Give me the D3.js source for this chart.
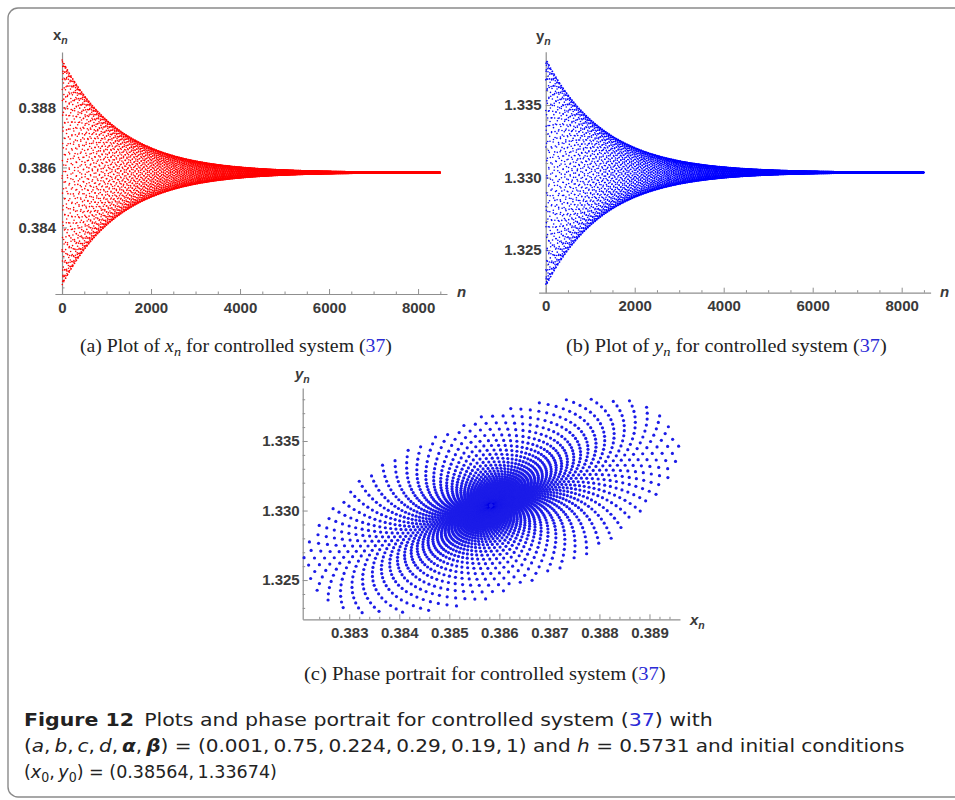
<!DOCTYPE html>
<html>
<head>
<meta charset="utf-8">
<script src="https://cdn.jsdelivr.net/npm/d3@7"></script>
<style>
  body { margin: 0; background: #fff; }
  svg { display: block; }
</style>
</head>
<body>
<svg id="fig" width="955" height="800"></svg>
<script>
// ---- controlled system (37): fixed point and linearised oscillation ----
const equilibrium   = [0.38583, 1.33035];   // (x*, y*)
const initialState  = [0.38564, 1.33674];   // (x0, y0)
const amplitude     = [0.00362, 0.00755];   // half-width of the first turn in x and y
const phaseLagDeg   = 57.5;                 // y_n trails x_n by this angle
const returnSteps   = 78;                   // iterations before an orbit point comes back near the same angle
const turnsPerReturn = 29;                  // whole turns made during those iterations
const armTwist      = 0.037;                // extra angle (rad) gained on each return
const decayPerStep  = 0.00076;              // log-contraction per iteration
const iterations    = 8500;

// ---- tick values ----
const nTicks        = [0, 2000, 4000, 6000, 8000];
const nMinorTicks   = [500, 1000, 1500, 2500, 3000, 3500, 4500, 5000, 5500, 6500, 7000, 7500, 8500];
const xnTicks       = [0.384, 0.386, 0.388];
const xnMinorTicks  = [0.382, 0.383, 0.385, 0.387, 0.389];
const ynTicks       = [1.325, 1.330, 1.335];
const ynMinorTicks  = [1.323, 1.324, 1.326, 1.327, 1.328, 1.329, 1.331, 1.332, 1.333, 1.334, 1.336, 1.337, 1.338];
const phXTicks      = [0.383, 0.384, 0.385, 0.386, 0.387, 0.388, 0.389];
const phXMinorTicks = [0.3824, 0.3826, 0.3828, 0.3832, 0.3834, 0.3836, 0.3838, 0.3842, 0.3844, 0.3846, 0.3848,
                       0.3852, 0.3854, 0.3856, 0.3858, 0.3862, 0.3864, 0.3866, 0.3868, 0.3872, 0.3874, 0.3876, 0.3878,
                       0.3882, 0.3884, 0.3886, 0.3888, 0.3892, 0.3894];
const phYTicks      = [1.325, 1.330, 1.335];
const phYMinorTicks = [1.323, 1.324, 1.326, 1.327, 1.328, 1.329, 1.331, 1.332, 1.333, 1.334, 1.336, 1.337, 1.338];

// ---- iterate the linearised map from the initial conditions ----
const lag = -phaseLagDeg * Math.PI / 180;
const theta = (2 * Math.PI * turnsPerReturn + armTwist) / returnSteps;
const rho = Math.exp(-decayPerStep);
const [A, B] = amplitude;
const P = [[A, 0], [B * Math.cos(lag), -B * Math.sin(lag)]];
const detP = P[0][0] * P[1][1] - P[0][1] * P[1][0];
const Pinv = [[P[1][1] / detP, -P[0][1] / detP], [-P[1][0] / detP, P[0][0] / detP]];
const Rm = [[rho * Math.cos(theta), -rho * Math.sin(theta)], [rho * Math.sin(theta), rho * Math.cos(theta)]];
const mul = (M, N) => [[M[0][0]*N[0][0] + M[0][1]*N[1][0], M[0][0]*N[0][1] + M[0][1]*N[1][1]],
                       [M[1][0]*N[0][0] + M[1][1]*N[1][0], M[1][0]*N[0][1] + M[1][1]*N[1][1]]];
const J = mul(mul(P, Rm), Pinv);

const orbit = [];
let ex = initialState[0] - equilibrium[0], ey = initialState[1] - equilibrium[1];
for (let n = 0; n < iterations; n++) {
  orbit.push({ n, x: equilibrium[0] + ex, y: equilibrium[1] + ey });
  const nx = J[0][0] * ex + J[0][1] * ey;
  const ny = J[1][0] * ex + J[1][1] * ey;
  ex = nx; ey = ny;
}

// ---- drawing ----
const svg = d3.select("#fig");
const axisColor = "#8f8f8f";
const labelColor = "#3a3a3a";
const sans = "'Liberation Sans', Arial, sans-serif";
const serif = "'Liberation Serif', 'Times New Roman', serif";
const captionFont = "'DejaVu Sans Condensed', 'Open Sans', sans-serif";
const linkBlue = "#2b2bd6";

// outer frame
svg.append("rect")
  .attr("x", 8).attr("y", 8).attr("width", 980).attr("height", 789)
  .attr("rx", 10).attr("fill", "none")
  .attr("stroke", "#8a8a8a").attr("stroke-width", 1.4);

function styleAxis(g, fontSize) {
  g.select(".domain").attr("stroke", axisColor).attr("stroke-width", 1.2);
  g.selectAll(".tick line").attr("stroke", axisColor).attr("stroke-width", 1);
  g.selectAll(".tick text")
    .attr("fill", labelColor).attr("font-family", sans)
    .attr("font-weight", "bold").attr("font-size", fontSize);
}

function drawAxes(xs, ys, opt) {
  const y0 = ys.range()[0];
  const x0 = xs(opt.xOrigin);
  // minor ticks
  svg.append("g").attr("transform", `translate(0,${y0})`)
    .call(d3.axisBottom(xs).tickValues(opt.xMinor).tickSize(-2.5).tickSizeOuter(0).tickFormat(""))
    .call(g => { g.select(".domain").remove(); g.selectAll("line").attr("stroke", axisColor); });
  svg.append("g").attr("transform", `translate(${x0},0)`)
    .call(d3.axisLeft(ys).tickValues(opt.yMinor).tickSize(-2.5).tickSizeOuter(0).tickFormat(""))
    .call(g => { g.select(".domain").remove(); g.selectAll("line").attr("stroke", axisColor); });
  // major ticks with labels
  const gx = svg.append("g").attr("transform", `translate(0,${y0})`)
    .call(d3.axisBottom(xs).tickValues(opt.xTicks).tickSize(-5).tickSizeOuter(0)
      .tickPadding(opt.xPad).tickFormat(opt.xFmt));
  styleAxis(gx, opt.fontSize);
  const gy = svg.append("g").attr("transform", `translate(${x0},0)`)
    .call(d3.axisLeft(ys).tickValues(opt.yTicks).tickSize(-5).tickSizeOuter(0)
      .tickPadding(opt.yPad).tickFormat(opt.yFmt));
  styleAxis(gy, opt.fontSize);
}

function axisLabel(x, y, main, sub, mainItalic, subItalic) {
  const t = svg.append("text").attr("x", x).attr("y", y)
    .attr("font-family", sans).attr("font-weight", "bold")
    .attr("font-size", 15).attr("fill", labelColor);
  t.append("tspan").text(main).attr("font-style", mainItalic ? "italic" : "normal");
  if (sub) t.append("tspan").text(sub).attr("font-size", 10.5).attr("dy", 3.5)
    .attr("font-style", subItalic ? "italic" : "normal");
}

// (a) x_n against n
const xA = d3.scaleLinear().domain([-160, 8650]).range([54.9, 447]);
const yA = d3.scaleLinear().domain([0.38178, 0.38985]).range([294, 52]);
drawAxes(xA, yA, {
  xOrigin: 0, xTicks: nTicks, xMinor: nMinorTicks, yTicks: xnTicks, yMinor: xnMinorTicks,
  xFmt: d3.format("d"), yFmt: d3.format(".3f"), xPad: 8, yPad: 6, fontSize: 15
});
svg.append("g").selectAll("circle").data(orbit).join("circle")
  .attr("cx", d => xA(d.n)).attr("cy", d => yA(d.x)).attr("r", 0.8).attr("fill", "#ff0000");
axisLabel(53, 40, "x", "n", false, true);
axisLabel(457, 297, "n", null, true, false);

// (b) y_n against n
const xB = d3.scaleLinear().domain([-160, 8650]).range([538.6, 930.6]);
const yB = d3.scaleLinear().domain([1.32206, 1.33868]).range([292.7, 51.7]);
drawAxes(xB, yB, {
  xOrigin: 0, xTicks: nTicks, xMinor: nMinorTicks, yTicks: ynTicks, yMinor: ynMinorTicks,
  xFmt: d3.format("d"), yFmt: d3.format(".3f"), xPad: 8, yPad: 4, fontSize: 15
});
svg.append("g").selectAll("circle").data(orbit).join("circle")
  .attr("cx", d => xB(d.n)).attr("cy", d => yB(d.y)).attr("r", 0.8).attr("fill", "#0000ff");
axisLabel(536, 41, "y", "n", false, true);
axisLabel(940, 297, "n", null, true, false);

// (c) phase portrait
const xC = d3.scaleLinear().domain([0.38207, 0.38961]).range([302.7, 680]);
const yC = d3.scaleLinear().domain([1.32218, 1.33881]).range([619.3, 388]);
drawAxes(xC, yC, {
  xOrigin: 0.38207, xTicks: phXTicks, xMinor: phXMinorTicks, yTicks: phYTicks, yMinor: phYMinorTicks,
  xFmt: d3.format(".3f"), yFmt: d3.format(".3f"), xPad: 8, yPad: 3, fontSize: 15
});
svg.append("g").selectAll("circle").data(orbit).join("circle")
  .attr("cx", d => xC(d.x)).attr("cy", d => yC(d.y)).attr("r", 1.6).attr("fill", "#1c1ce8");
axisLabel(295, 379, "y", "n", true, true);
axisLabel(690, 625, "x", "n", true, true);

// ---- captions ----
function richText(x, y, parts, opt) {
  const t = svg.append("text").attr("x", x).attr("y", y)
    .attr("font-family", opt.family).attr("font-size", opt.size).attr("fill", "#222");
  let shifted = 0;
  parts.forEach(p => {
    const s = t.append("tspan").text(p.t);
    if (p.i) s.attr("font-style", "italic");
    if (p.b) s.attr("font-weight", "bold");
    if (p.c) s.attr("fill", p.c);
    if (p.sub) { s.attr("font-size", opt.size * 0.72).attr("dy", 4 - shifted); shifted = 4; }
    else if (shifted) { s.attr("dy", -shifted); shifted = 0; }
  });
  if (opt.width) {
    const w = t.node().getComputedTextLength();
    const k = opt.width / w;
    t.attr("transform", `translate(${x},0) scale(${k},1) translate(${-x},0)`);
  }
  return t;
}

const subCaptionA = [{t: "(a) Plot of "}, {t: "x", i: 1}, {t: "n", i: 1, sub: 1}, {t: " for controlled system ("}, {t: "37", c: linkBlue}, {t: ")"}];
const subCaptionB = [{t: "(b) Plot of "}, {t: "y", i: 1}, {t: "n", i: 1, sub: 1}, {t: " for controlled system ("}, {t: "37", c: linkBlue}, {t: ")"}];
const subCaptionC = [{t: "(c) Phase portrait for controlled system ("}, {t: "37", c: linkBlue}, {t: ")"}];
richText(80, 352, subCaptionA, {family: serif, size: 18, width: 312});
richText(566, 352, subCaptionB, {family: serif, size: 18, width: 321});
richText(304, 680, subCaptionC, {family: serif, size: 18, width: 362});

const th = "\u2009";
const captionLine1 = [{t: "Figure 12", b: 1}, {t: "\u2002Plots and phase portrait for controlled system ("}, {t: "37", c: linkBlue}, {t: ") with"}];
const captionLine2 = [{t: "("}, {t: "a", i: 1}, {t: "," + th}, {t: "b", i: 1}, {t: "," + th}, {t: "c", i: 1}, {t: "," + th},
  {t: "d", i: 1}, {t: "," + th}, {t: "α", i: 1, b: 1}, {t: "," + th}, {t: "β", i: 1, b: 1},
  {t: ") = (0.001," + th + "0.75," + th + "0.224," + th + "0.29," + th + "0.19," + th + "1) and "}, {t: "h", i: 1}, {t: " = 0.5731 and initial conditions"}];
const captionLine3 = [{t: "("}, {t: "x", i: 1}, {t: "0", sub: 1}, {t: "," + th}, {t: "y", i: 1}, {t: "0", sub: 1}, {t: ") = (0.38564," + th + "1.33674)"}];
richText(24, 726, captionLine1, {family: captionFont, size: 18.5, width: 689});
richText(24, 752, captionLine2, {family: captionFont, size: 18.5, width: 881});
richText(24, 778, captionLine3, {family: captionFont, size: 18.5, width: 253});
</script>
</body>
</html>
